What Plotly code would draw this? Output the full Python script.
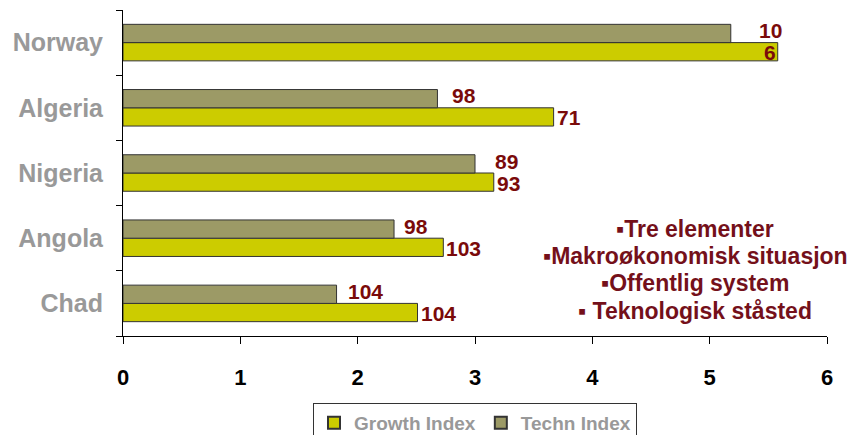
import plotly.graph_objects as go

countries = ["Chad", "Angola", "Nigeria", "Algeria", "Norway"]
growth_index = [2.51, 2.73, 3.16, 3.67, 5.58]
techn_index = [1.82, 2.31, 3.00, 2.68, 5.18]
growth_labels = ["104", "103", "93", "71", "6"]
techn_labels = ["104", "98", "89", "98", "10"]
x_ticks = [0, 1, 2, 3, 4, 5, 6]
notes = ["▪Tre elementer", "▪Makroøkonomisk situasjon", "▪Offentlig system", "▪ Teknologisk ståsted"]

GROWTH_C = "#CCCC00"
TECHN_C = "#9C9A66"
LABEL_C = "#7A0A0A"
NOTE_C = "#74101A"
GRAY = "#999999"
FONT = "Liberation Sans, Arial, sans-serif"
NARROW = "Liberation Sans Narrow, Liberation Sans, Arial, sans-serif"

fig = go.Figure()
fig.add_trace(go.Bar(y=countries, x=growth_index, orientation="h", name="Growth Index",
                     marker=dict(color=GROWTH_C, line=dict(color="#333333", width=1))))
fig.add_trace(go.Bar(y=countries, x=techn_index, orientation="h", name="Techn Index",
                     marker=dict(color=TECHN_C, line=dict(color="#333333", width=1))))

# label offsets (pixel shifts) per category
techn_shift = [9, 8, 18, 13, 26]
for i, c in enumerate(countries):
    last = (i == len(countries) - 1)
    fig.add_annotation(x=growth_index[i], y=c, text=growth_labels[i], showarrow=False,
                       xanchor="right" if last else "left", xshift=0 if last else 1, yshift=-10,
                       font=dict(family=FONT, size=21, color=LABEL_C, weight="bold"))
    fig.add_annotation(x=techn_index[i], y=c, text=techn_labels[i], showarrow=False,
                       xanchor="left", xshift=techn_shift[i], yshift=12,
                       font=dict(family=FONT, size=21, color=LABEL_C, weight="bold"))

note_y = [0.328, 0.245, 0.163, 0.077]
for t, yy in zip(notes, note_y):
    fig.add_annotation(xref="paper", yref="paper", x=0.8125, y=yy, xanchor="center", yanchor="middle",
                       text=t, showarrow=False, align="center",
                       font=dict(family=FONT, size=23, color=NOTE_C, weight="bold"))

fig.update_layout(
    width=849, height=427,
    margin=dict(l=115, r=30, t=2, b=99, autoexpand=False),
    paper_bgcolor="white", plot_bgcolor="white",
    barmode="group", bargap=0.44, bargroupgap=0,
    showlegend=True,
    legend=dict(orientation="h", x=0.5, xanchor="center", xref="paper",
                y=0.075, yanchor="top", yref="container",
                bordercolor="#333333", borderwidth=1, traceorder="normal",
                font=dict(family=FONT, size=19, color=GRAY, weight="bold"),
                itemsizing="constant"),
    xaxis=dict(range=[0, 6], tickvals=x_ticks, showgrid=False, zeroline=False,
               showline=True, linecolor="black", linewidth=1, automargin=False,
               ticks="outside", ticklen=7, tickcolor="black", ticklabelstandoff=15,
               tickfont=dict(family=NARROW, size=22, color="black", weight="bold")),
    yaxis=dict(categoryorder="array", categoryarray=countries, showgrid=False,
               showline=True, linecolor="black", linewidth=1, automargin=False,
               ticks="outside", ticklen=6, tickcolor="black", tickson="boundaries",
               ticklabelstandoff=14,
               tickfont=dict(family=FONT, size=25, color=GRAY, weight="bold")),
)

fig.write_html("out.html")
